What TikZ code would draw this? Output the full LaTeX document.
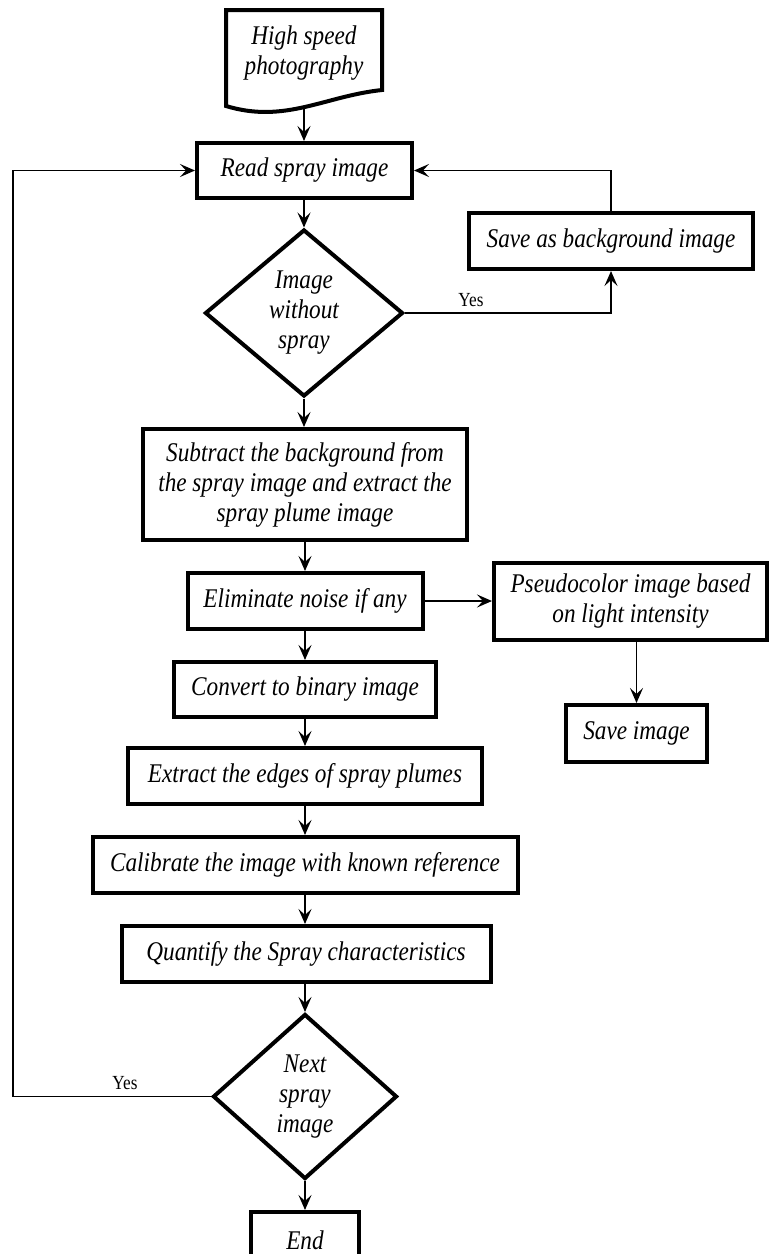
\documentclass[tikz,border=0pt]{standalone}
\usepackage{fontspec}
\setmainfont{Liberation Serif}[FakeStretch=0.86]
\usetikzlibrary{shapes.geometric,arrows.meta}
\begin{document}
\begin{tikzpicture}[x=1pt,y=-1pt,
  txt/.style={font=\itshape\fontsize{27}{30}\selectfont},
  box/.style={txt, draw, line width=4pt, rectangle, inner sep=0pt, align=center},
  decision/.style={txt, draw, line width=4pt, diamond, inner sep=0pt, align=center},
  conn/.style={line width=1.8pt, -{Stealth[length=15pt,width=13pt,inset=6pt]}},
  wire/.style={line width=1.8pt},
  lbl/.style={font=\fontsize{20}{22}\selectfont, inner sep=0pt}
]
\useasboundingbox[fill=white] (0,0) rectangle (769,1254);

% start: document symbol
\draw[line width=4pt, line join=miter] (226,10) -- (382,10) -- (382,90)
  .. controls (325,96) and (285,124) .. (226,106) -- cycle;
\node[txt, align=center, inner sep=0pt] (doc) at (304,53) {High speed\\photography};
\coordinate (docbot) at (304,108);

% main column
\node[box, minimum width=215pt, minimum height=55pt] (read) at (304.5,170.5) {Read spray image};
\node[decision, minimum width=198pt, minimum height=167pt] (dia1) at (304,313) {Image\\without\\spray};
\node[box, minimum width=284pt, minimum height=56pt] (savebg) at (611,241) {Save as background image};
\node[box, minimum width=324pt, minimum height=111pt] (sub) at (305,484.5)
  {Subtract the background from\\the spray image and extract the\\spray plume image};
\node[box, minimum width=235pt, minimum height=56pt] (elim) at (305,601) {Eliminate noise if any};
\node[box, minimum width=273pt, minimum height=77pt] (pseudo) at (630.5,601)
  {Pseudocolor image based\\on light intensity};
\node[box, minimum width=141pt, minimum height=57pt] (saveimg) at (636.5,733.5) {Save image};
\node[box, minimum width=262pt, minimum height=55pt] (conv) at (305,689.5) {Convert to binary image};
\node[box, minimum width=354pt, minimum height=56pt] (ext) at (305,776) {Extract the edges of spray plumes};
\node[box, minimum width=425pt, minimum height=56pt] (cal) at (305,865) {Calibrate the image with known reference};
\node[box, minimum width=369pt, minimum height=56pt] (quant) at (306,954) {Quantify the Spray characteristics};
\node[decision, minimum width=184pt, minimum height=165pt] (dia2) at (305,1096.5) {Next\\spray\\image};
\node[box, minimum width=108pt, minimum height=56pt] (end) at (305,1240) {End};

% connectors
\draw[conn] (docbot) -- (read.north -| docbot);
\draw[conn] (read.south -| dia1.north) -- (dia1.north);
\draw[conn] (dia1.east) -| (savebg.south);
\node[lbl] (yes1) at (471,300) {Yes};
\draw[conn] (savebg.north) |- (read.east);
\draw[conn] (dia1.south) -- (sub.north -| dia1.south);
\draw[conn] (sub.south) -- (elim.north);
\draw[conn] (elim.east) -- (pseudo.west |- elim.east);
\draw[conn] (saveimg.north |- pseudo.south) -- (saveimg.north);
\draw[conn] (elim.south) -- (conv.north);
\draw[conn] (conv.south) -- (ext.north);
\draw[conn] (ext.south) -- (cal.north);
\draw[conn] (cal.south) -- (quant.north -| cal.south);
\draw[conn] (quant.south -| dia2.north) -- (dia2.north);
\draw[conn] (dia2.south) -- (end.north);
\coordinate (loop) at (13,1096.5);
\draw[wire] (dia2.west) -- (loop);
\draw[conn] (loop) |- (read.west);
\node[lbl] (yes2) at (125,1083) {Yes};
\end{tikzpicture}
\end{document}
